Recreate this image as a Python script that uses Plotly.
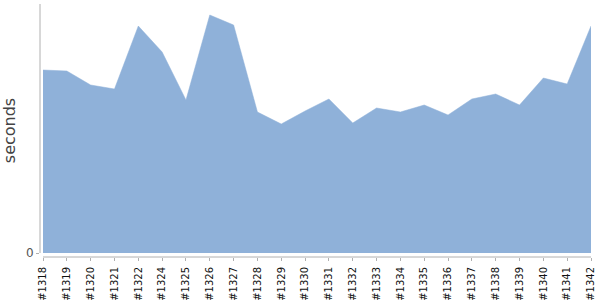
import plotly.graph_objects as go

builds = ["#1318", "#1319", "#1320", "#1321", "#1322", "#1324", "#1325", "#1326",
          "#1327", "#1328", "#1329", "#1330", "#1331", "#1332", "#1333", "#1334",
          "#1335", "#1336", "#1337", "#1338", "#1339", "#1340", "#1341", "#1342"]
seconds = [183, 182, 168, 164, 227, 201, 153, 238, 228, 141, 129, 142, 154, 130,
           145, 141, 148, 138, 154, 159, 148, 175, 169, 227]

fill_color = "#8fb1d9"
axis_color = "#b0b0b0"

fig = go.Figure()
fig.add_trace(go.Scatter(
    x=builds, y=seconds, mode="lines", fill="tozeroy",
    fillcolor=fill_color, line=dict(color=fill_color, width=0.5),
    hoverinfo="x+y",
))

n = len(builds)
fig.update_layout(
    width=600, height=300,
    margin=dict(l=40, r=9, t=4, b=43, autoexpand=False),
    plot_bgcolor="white", paper_bgcolor="white",
    showlegend=False,
    xaxis=dict(
        type="category", range=[-0.126, n - 1], automargin=False,
        showgrid=False, zeroline=False, showline=False,
        ticks="outside", ticklen=3, tickcolor=axis_color, tickwidth=1,
        ticklabelstandoff=2,
        tickangle=-90, tickfont=dict(family="DejaVu Sans", size=10, color="#111"),
    ),
    yaxis=dict(
        range=[-4, 249], tickvals=[0], ticktext=["0"], automargin=False,
        showgrid=False, zeroline=False, showline=False,
        ticks="outside", ticklen=3, tickcolor=axis_color,
        tickfont=dict(family="DejaVu Sans", size=12, color="#555"),
        title=dict(text="seconds", font=dict(family="DejaVu Sans", size=16, color="#444"), standoff=6),
    ),
    shapes=[
        dict(type="line", xref="paper", yref="y", x0=0, x1=0, y0=0, y1=249,
             line=dict(color=axis_color, width=1)),
        dict(type="line", xref="x", yref="paper", x0=0, x1=n - 1, y0=0, y1=0,
             line=dict(color=axis_color, width=1)),
    ],
)

fig.write_html("out.html")
